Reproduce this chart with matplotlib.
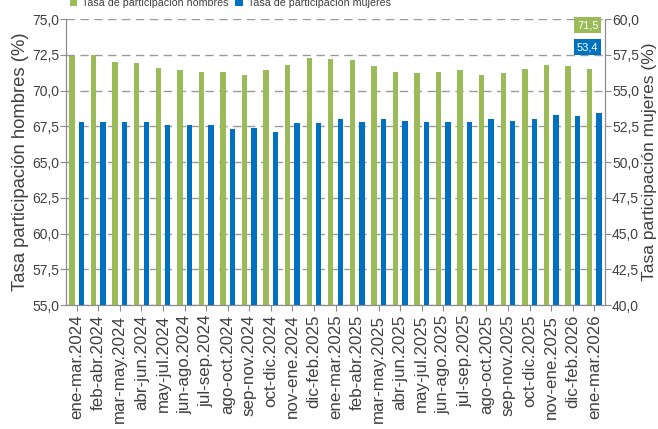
import matplotlib
matplotlib.use("Agg")
import matplotlib.pyplot as plt
import numpy as np

plt.rcParams["font.family"] = ["Liberation Sans", "DejaVu Sans"]

PERIODS = [
    "ene-mar.2024", "feb-abr.2024", "mar-may.2024", "abr-jun.2024", "may-jul.2024",
    "jun-ago.2024", "jul-sep.2024", "ago-oct.2024", "sep-nov.2024", "oct-dic.2024",
    "nov-ene.2024", "dic-feb.2025", "ene-mar.2025", "feb-abr.2025", "mar-may.2025",
    "abr-jun.2025", "may-jul.2025", "jun-ago.2025", "jul-sep.2025", "ago-oct.2025",
    "sep-nov.2025", "oct-dic.2025", "nov-ene.2025", "dic-feb.2026", "ene-mar.2026",
]
HOMBRES = [72.4, 72.5, 72.0, 71.9, 71.6, 71.4, 71.3, 71.3, 71.1, 71.4,
           71.8, 72.3, 72.2, 72.1, 71.7, 71.3, 71.2, 71.3, 71.4, 71.1,
           71.2, 71.5, 71.8, 71.7, 71.5]
MUJERES = [52.8, 52.8, 52.8, 52.8, 52.6, 52.6, 52.6, 52.3, 52.4, 52.1,
           52.7, 52.7, 53.0, 52.8, 53.0, 52.9, 52.8, 52.8, 52.8, 53.0,
           52.9, 53.0, 53.3, 53.2, 53.4]
LEFT_TICKS = np.arange(55.0, 75.01, 2.5)
RIGHT_TICKS = np.arange(40.0, 60.01, 2.5)

GREEN = "#9BBB59"
BLUE = "#0070C0"
TXT = "#404040"
AXC = "#8C8C8C"


def fmt(v):
    return f"{v:.1f}".replace(".", ",")


fig = plt.figure(figsize=(6.58, 4.29), dpi=100)
ax = fig.add_axes([0.1003, 0.289, 0.8192, 0.6667])
ax2 = ax.twinx()

x = np.arange(len(PERIODS))
w = 0.25
ax.bar(x - 0.22, HOMBRES, width=w, color=GREEN, zorder=3, label="Tasa de participación hombres")
ax2.bar(x + 0.22, MUJERES, width=w, color=BLUE, zorder=3, label="Tasa de participación mujeres")

ax.set_xlim(-0.5, len(PERIODS) - 0.5)
ax.set_ylim(LEFT_TICKS[0], LEFT_TICKS[-1])
ax2.set_ylim(RIGHT_TICKS[0], RIGHT_TICKS[-1])
ax.set_yticks(LEFT_TICKS)
ax.set_yticklabels([fmt(v) for v in LEFT_TICKS])
ax2.set_yticks(RIGHT_TICKS)
ax2.set_yticklabels([fmt(v) for v in RIGHT_TICKS])
ax.set_xticks(x)
ax.set_xticklabels(PERIODS, rotation=90, color=TXT)

ax.grid(axis="y", color="#9A9A9A", linestyle=(0, (6, 4)), linewidth=1.0, zorder=0)
ax.set_axisbelow(True)

for a in (ax, ax2):
    a.spines["top"].set_visible(False)
    for s in ("left", "right", "bottom"):
        a.spines[s].set_color(AXC)
    a.tick_params(axis="both", colors=AXC, labelcolor=TXT, labelsize=10, length=4, pad=1)
ax.tick_params(axis="x", labelsize=12.2, pad=3)

ax.set_ylabel("Tasa participación hombres (%)", fontsize=13.3, color=TXT)
ax.yaxis.set_label_coords(-0.085, 0.5)
ax.yaxis.label.set_va("center")
ax2.set_ylabel("Tasa participación mujeres (%)", fontsize=12.5, color=TXT, rotation=90)
ax2.yaxis.set_label_coords(1.082, 0.5)
ax2.yaxis.label.set_va("center")

# value labels for the last period
last = len(PERIODS) - 1
ax.annotate(fmt(HOMBRES[-1]), xy=(last - 0.3, 0.979), xycoords=("data", "axes fraction"),
            ha="center", va="center", fontsize=8, color="white",
            bbox=dict(boxstyle="square,pad=0.25", fc=GREEN, ec="none"), zorder=5)
ax.annotate(fmt(MUJERES[-1]), xy=(last - 0.3, 0.902), xycoords=("data", "axes fraction"),
            ha="center", va="center", fontsize=8, color="white",
            bbox=dict(boxstyle="square,pad=0.25", fc=BLUE, ec="none"), zorder=5)

h1, l1 = ax.get_legend_handles_labels()
h2, l2 = ax2.get_legend_handles_labels()
fig.legend(h1 + h2, l1 + l2, loc="center", bbox_to_anchor=(0.35, 0.993), ncol=2,
           frameon=False, fontsize=7.7, handlelength=0.7, handleheight=0.7,
           handletextpad=0.5, columnspacing=0.6, labelcolor=TXT)

fig.savefig("out.png", dpi=100)
